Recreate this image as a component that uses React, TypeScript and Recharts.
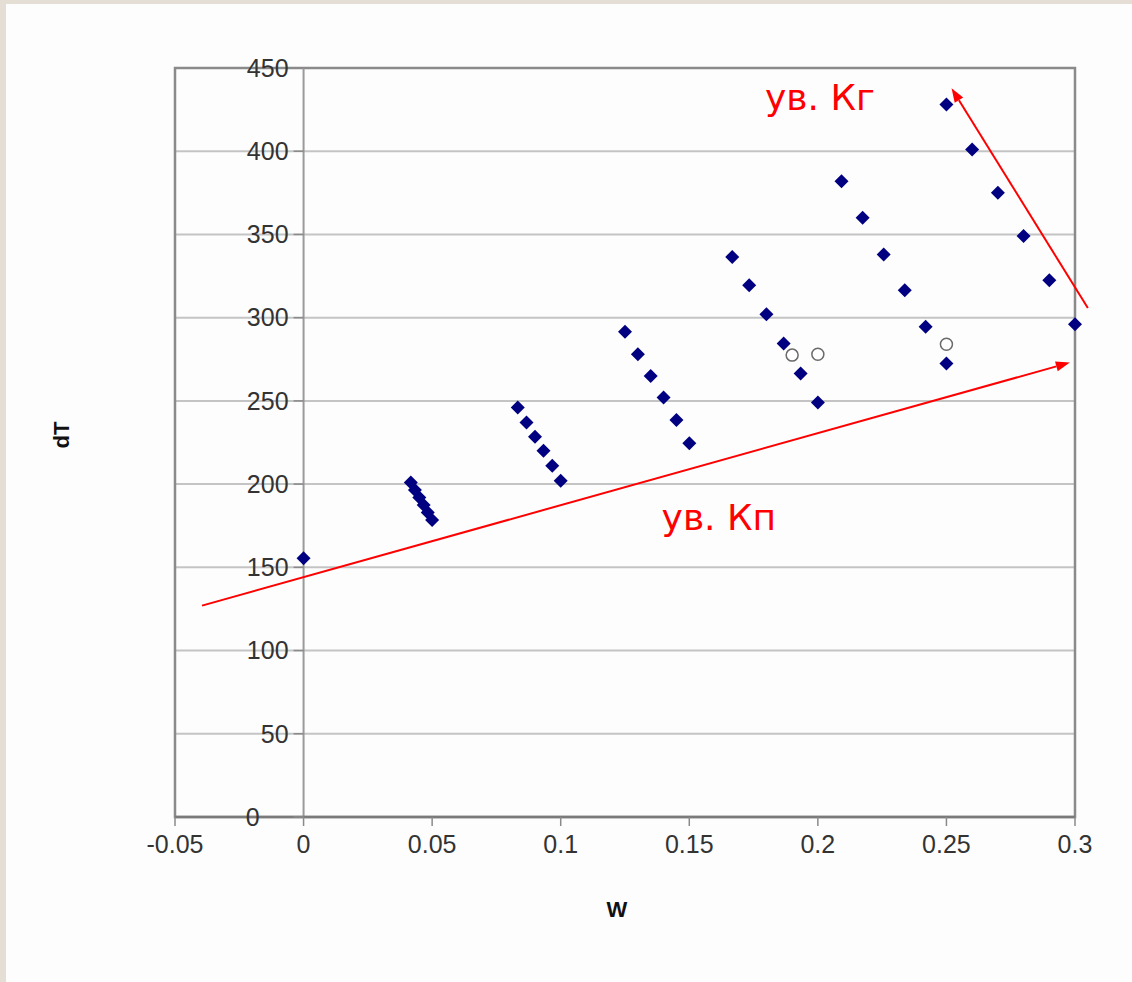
import React from "react";
import {
  ScatterChart,
  Scatter,
  XAxis,
  YAxis,
  CartesianGrid,
  ReferenceLine,
  ReferenceArea,
  ReferenceDot,
} from "recharts";

// measured points (W, dT)
const diamondW = [
  0,
  0.0417, 0.0433, 0.045, 0.0467, 0.0483, 0.05,
  0.0833, 0.0867, 0.09, 0.0933, 0.0967, 0.1,
  0.125, 0.13, 0.135, 0.14, 0.145, 0.15,
  0.1667, 0.1733, 0.18, 0.1867, 0.1933, 0.2,
  0.2092, 0.2174, 0.2256, 0.2338, 0.2419, 0.25,
  0.25, 0.26, 0.27, 0.28, 0.29, 0.3,
];
const diamondDT = [
  155.5,
  201, 196.5, 192, 187.5, 183, 178.5,
  246, 237, 228.5, 220, 211, 202,
  291.5, 278, 265, 252, 238.5, 224.5,
  336.5, 319.5, 302, 284.5, 266.5, 249,
  382, 360, 338, 316.5, 294.5, 272.5,
  428, 401, 375, 349, 322.5, 296,
];
const circleW = [0.19, 0.2, 0.25];
const circleDT = [277.5, 278, 284];

const xTicks = [-0.05, 0, 0.05, 0.1, 0.15, 0.2, 0.25, 0.3];
const yTicks = [0, 50, 100, 150, 200, 250, 300, 350, 400, 450];

const X_MIN = -0.05;
const X_MAX = 0.3;
const PLOT_LEFT = 175;
const PLOT_W = 900;
const ZERO_X = PLOT_LEFT + (PLOT_W * (0 - X_MIN)) / (X_MAX - X_MIN);

const diamonds = diamondW.map((w, i) => ({ w, dT: diamondDT[i] }));
const circles = circleW.map((w, i) => ({ w, dT: circleDT[i] }));

const FONT = "'Liberation Sans', Arial, sans-serif";
const RED_FONT = "'DejaVu Sans', sans-serif";

const Diamond = (props: any) => {
  const { cx, cy } = props;
  const r = 7;
  return (
    <polygon
      points={`${cx},${cy - r} ${cx + r},${cy} ${cx},${cy + r} ${cx - r},${cy}`}
      fill="#000080"
    />
  );
};

const OpenCircle = (props: any) => (
  <circle cx={props.cx} cy={props.cy} r={6} fill="#fff" stroke="#6a6a6a" strokeWidth={1.5} />
);

const Arrow = (props: any) => {
  const { x1, y1, x2, y2 } = props;
  const a = Math.atan2(y2 - y1, x2 - x1);
  const len = 14;
  const hw = 5;
  const bx = x2 - len * Math.cos(a);
  const by = y2 - len * Math.sin(a);
  const px = -Math.sin(a) * hw;
  const py = Math.cos(a) * hw;
  return (
    <g>
      <line x1={x1} y1={y1} x2={bx} y2={by} stroke="#ff0000" strokeWidth={2} />
      <polygon points={`${x2},${y2} ${bx + px},${by + py} ${bx - px},${by - py}`} fill="#ff0000" />
    </g>
  );
};

const renderYTick = (props: any) => {
  const { y, payload } = props;
  const isZero = payload.value === 0;
  return (
    <g key={`yt-${payload.value}`}>
      <line x1={ZERO_X - 10} y1={y} x2={ZERO_X} y2={y} stroke="#8a8a8a" strokeWidth={1.5} />
      <text
        x={isZero ? ZERO_X - 44 : ZERO_X - 15}
        y={y}
        dy="0.35em"
        textAnchor="end"
        fill="#333"
        fontSize={25}
        fontFamily={FONT}
      >
        {payload.value}
      </text>
    </g>
  );
};

export default function App() {
  return (
    <div style={{ position: "absolute", left: 0, top: 0, width: 1132, height: 982, background: "#e4ded4" }}>
      <div style={{ position: "absolute", left: 6, top: 4, width: 1126, height: 978, background: "#fdfdfd" }} />
      <div style={{ position: "absolute", left: 0, top: 0 }}>
        <ScatterChart
          width={1132}
          height={982}
          margin={{ top: 68, left: PLOT_LEFT - 10, right: 1132 - PLOT_LEFT - PLOT_W, bottom: 105 }}
        >
          <CartesianGrid vertical={false} stroke="#c4c4c4" strokeWidth={2} />
          <ReferenceArea x1={X_MIN} x2={X_MAX} y1={0} y2={450} fill="none" stroke="#8a8a8a" strokeWidth={2.5} />
          <ReferenceLine x={0} stroke="#9a9a9a" strokeWidth={2} />
          <XAxis
            type="number"
            dataKey="w"
            domain={[X_MIN, X_MAX]}
            ticks={xTicks}
            height={60}
            tickSize={9}
            tickMargin={9}
            stroke="#7a7a7a"
            tick={{ fill: "#333", fontSize: 25, fontFamily: FONT }}
            tickLine={{ stroke: "#8a8a8a", strokeWidth: 1.5 }}
            axisLine={{ stroke: "#7a7a7a", strokeWidth: 2.5 }}
          />
          <YAxis
            type="number"
            dataKey="dT"
            domain={[0, 450]}
            ticks={yTicks}
            width={10}
            axisLine={false}
            tickLine={false}
            tick={renderYTick}
          />
          <ReferenceLine
            segment={[{ x: -0.0395, y: 127 }, { x: 0.298, y: 273 }]}
            ifOverflow="visible"
            shape={Arrow}
          />
          <ReferenceLine
            segment={[{ x: 0.305, y: 305.8 }, { x: 0.252, y: 437.8 }]}
            ifOverflow="visible"
            shape={Arrow}
          />
          <Scatter data={diamonds} shape={Diamond} isAnimationActive={false} />
          <Scatter data={circles} shape={OpenCircle} isAnimationActive={false} />
          <ReferenceDot
            x={0.2008}
            y={432.3}
            r={0}
            stroke="none"
            label={{ value: "ув. Кг", position: "center", fill: "#ff0000", fontSize: 36, fontFamily: RED_FONT }}
          />
          <ReferenceDot
            x={0.1615}
            y={180}
            r={0}
            stroke="none"
            label={{ value: "ув. Кп", position: "center", fill: "#ff0000", fontSize: 36, fontFamily: RED_FONT }}
          />
        </ScatterChart>
      </div>
      <div
        style={{
          position: "absolute",
          left: 62,
          top: 435,
          transform: "translate(-50%, -50%) rotate(-90deg)",
          fontFamily: FONT,
          fontWeight: "bold",
          fontSize: 22,
          color: "#111",
        }}
      >
        dT
      </div>
      <div
        style={{
          position: "absolute",
          left: 617,
          top: 910,
          transform: "translate(-50%, -50%)",
          fontFamily: FONT,
          fontWeight: "bold",
          fontSize: 22,
          color: "#111",
        }}
      >
        W
      </div>
    </div>
  );
}
